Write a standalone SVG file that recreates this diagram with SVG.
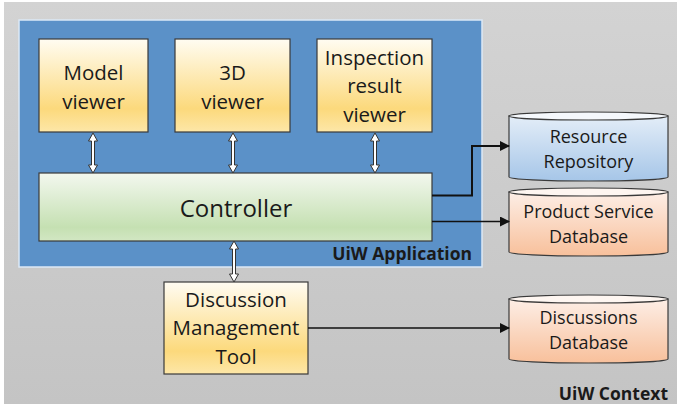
<svg xmlns="http://www.w3.org/2000/svg" width="677" height="406" viewBox="0 0 677 406">
  <defs>
    <linearGradient id="gContext" x1="0" y1="0" x2="0" y2="1">
      <stop offset="0" stop-color="#d3d3d3"/>
      <stop offset="1" stop-color="#c4c4c4"/>
    </linearGradient>
    <linearGradient id="gYellow" x1="0" y1="0" x2="0" y2="1">
      <stop offset="0" stop-color="#fffcf2"/>
      <stop offset="0.75" stop-color="#fcd97c"/>
      <stop offset="1" stop-color="#fde7a8"/>
    </linearGradient>
    <linearGradient id="gGreen" x1="0" y1="0" x2="0" y2="1">
      <stop offset="0" stop-color="#f3f8ef"/>
      <stop offset="0.8" stop-color="#c5e0b2"/>
      <stop offset="1" stop-color="#d2e7c3"/>
    </linearGradient>
    <linearGradient id="gBlueDb" x1="0" y1="0" x2="0" y2="1">
      <stop offset="0" stop-color="#e3edf8"/>
      <stop offset="1" stop-color="#a6c6e8"/>
    </linearGradient>
    <linearGradient id="gPeachDb" x1="0" y1="0" x2="0" y2="1">
      <stop offset="0" stop-color="#fdeee6"/>
      <stop offset="1" stop-color="#f8c09b"/>
    </linearGradient>
    <marker id="head" viewBox="0 0 10 10" refX="9" refY="5" markerWidth="10" markerHeight="10" markerUnits="userSpaceOnUse" orient="auto">
      <path d="M0,0 L10,5 L0,10 Z" fill="#111"/>
    </marker>
  </defs>
  <style>
    .lbl { font-family: "Open Sans", "Noto Sans", "Liberation Sans", sans-serif; fill: #1a1a1a; text-anchor: middle; }
    .box { font-size: 20.5px; }
    .ctl { font-size: 24px; }
    .db { font-size: 18px; }
    .title { font-family: "Open Sans", "Noto Sans", "Liberation Sans", sans-serif; font-weight: bold; font-size: 17.5px; fill: #1a1a1a; text-anchor: end; }
    .node { stroke: #3a3a3a; stroke-width: 1.2; }
    .dbl { fill: #ffffff; stroke: #333; stroke-width: 1; }
    .wire { fill: none; stroke: #111; marker-end: url(#head); }
  </style>

  <rect width="677" height="406" fill="#ffffff"/>

  <!-- outer context frame -->
  <g id="context">
    <rect x="4" y="2" width="673" height="402" fill="url(#gContext)"/>
    <text class="title" x="668" y="400">UiW Context</text>
  </g>

  <!-- application frame -->
  <g id="application">
    <rect x="19" y="20" width="463" height="247" fill="#5b91c8" stroke="#dce9f6" stroke-width="1.5"/>
    <text class="title" x="472" y="260">UiW Application</text>
  </g>

  <g id="model-viewer">
    <rect class="node" x="39" y="39" width="109" height="93" fill="url(#gYellow)"/>
    <text class="lbl box" x="93.5" y="80">Model</text>
    <text class="lbl box" x="93.5" y="109">viewer</text>
  </g>

  <g id="viewer-3d">
    <rect class="node" x="175" y="39" width="115" height="93" fill="url(#gYellow)"/>
    <text class="lbl box" x="232.5" y="80">3D</text>
    <text class="lbl box" x="232.5" y="109">viewer</text>
  </g>

  <g id="inspection-viewer">
    <rect class="node" x="317" y="39" width="115" height="93" fill="url(#gYellow)"/>
    <text class="lbl box" x="374.5" y="65">Inspection</text>
    <text class="lbl box" x="374.5" y="93">result</text>
    <text class="lbl box" x="374.5" y="122">viewer</text>
  </g>

  <g id="controller">
    <rect class="node" x="39" y="173" width="393" height="68" fill="url(#gGreen)"/>
    <text class="lbl ctl" x="236" y="217">Controller</text>
  </g>

  <g id="discussion-tool">
    <rect class="node" x="164" y="282" width="144" height="92" fill="url(#gYellow)"/>
    <text class="lbl box" x="236" y="307">Discussion</text>
    <text class="lbl box" x="236" y="335">Management</text>
    <text class="lbl box" x="236" y="364">Tool</text>
  </g>

  <g id="resource-repository">
    <path class="node" d="M509,116 L509,177 A79.5,4 0 0 0 668,177 L668,116 Z" fill="url(#gBlueDb)"/>
    <ellipse class="node" cx="588.5" cy="116" rx="79.5" ry="4" fill="#f5f8fc"/>
    <text class="lbl db" x="588.5" y="143">Resource</text>
    <text class="lbl db" x="588.5" y="168">Repository</text>
  </g>

  <g id="product-service-db">
    <path class="node" d="M509,192 L509,252 A79.5,4 0 0 0 668,252 L668,192 Z" fill="url(#gPeachDb)"/>
    <ellipse class="node" cx="588.5" cy="192" rx="79.5" ry="4" fill="#fef6f1"/>
    <text class="lbl db" x="588.5" y="218">Product Service</text>
    <text class="lbl db" x="588.5" y="243">Database</text>
  </g>

  <g id="discussions-db">
    <path class="node" d="M509,299 L509,359 A79.5,4 0 0 0 668,359 L668,299 Z" fill="url(#gPeachDb)"/>
    <ellipse class="node" cx="588.5" cy="299" rx="79.5" ry="4" fill="#fef6f1"/>
    <text class="lbl db" x="588.5" y="324">Discussions</text>
    <text class="lbl db" x="588.5" y="349">Database</text>
  </g>

  <g id="connectors">
    <!-- two-way links between viewers, controller and discussion tool -->
    <polygon class="dbl" points="93,133 97.5,141 94.5,141 94.5,165 97.5,165 93,173 88.5,165 91.5,165 91.5,141 88.5,141"/>
    <polygon class="dbl" points="233,133 237.5,141 234.5,141 234.5,165 237.5,165 233,173 228.5,165 231.5,165 231.5,141 228.5,141"/>
    <polygon class="dbl" points="375,133 379.5,141 376.5,141 376.5,165 379.5,165 375,173 370.5,165 373.5,165 373.5,141 370.5,141"/>
    <polygon class="dbl" points="234,241 238.5,249 235.5,249 235.5,274 238.5,274 234,282 229.5,274 232.5,274 232.5,249 229.5,249"/>
    <!-- data flows to the stores -->
    <path class="wire" stroke-width="2" d="M432,195.5 H472 V146 H509"/>
    <path class="wire" stroke-width="1.5" d="M432,221.5 H509"/>
    <path class="wire" stroke-width="1.3" d="M308,328 H509"/>
  </g>
</svg>
